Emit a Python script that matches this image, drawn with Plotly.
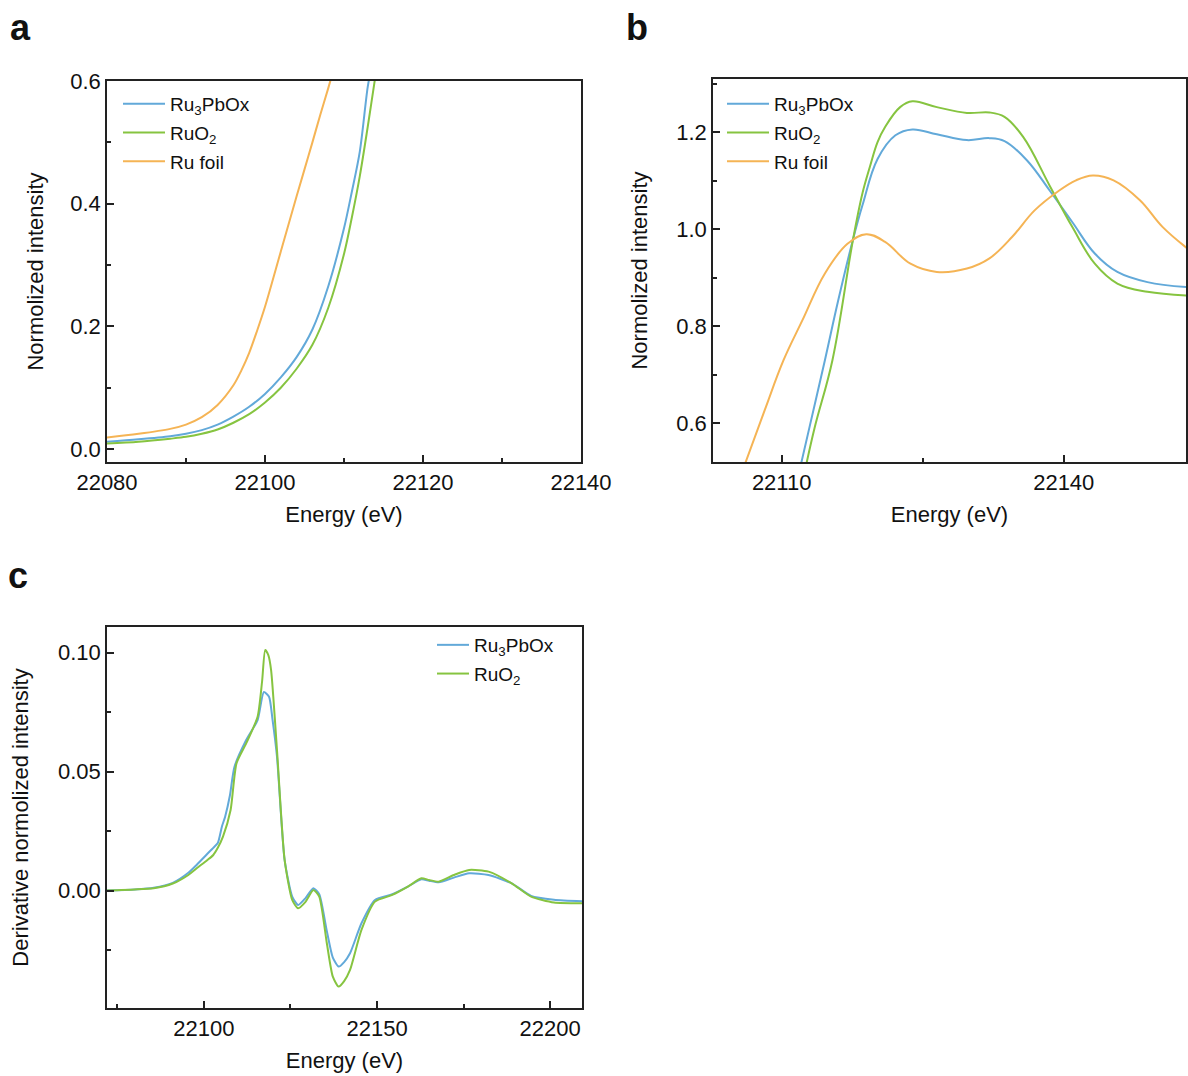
import plotly.graph_objects as go

# ---------------- Data ----------------
# Panel a: XANES pre-edge region
a_E_ru3 = [22080, 22084, 22088, 22090, 22092, 22094, 22096, 22098, 22100, 22102, 22104, 22106, 22108, 22110, 22111, 22112, 22113, 22113.5]
a_I_ru3 = [0.012, 0.016, 0.021, 0.025, 0.031, 0.040, 0.053, 0.069, 0.090, 0.117, 0.150, 0.195, 0.265, 0.360, 0.420, 0.485, 0.590, 0.625]

a_E_ruo2 = [22080, 22084, 22088, 22090, 22092, 22094, 22096, 22098, 22100, 22102, 22104, 22106, 22108, 22110, 22111, 22112, 22113, 22114, 22114.3]
a_I_ruo2 = [0.009, 0.012, 0.017, 0.020, 0.025, 0.032, 0.043, 0.057, 0.076, 0.100, 0.131, 0.170, 0.230, 0.318, 0.378, 0.445, 0.525, 0.610, 0.635]

a_E_foil = [22080, 22084, 22088, 22090, 22092, 22094, 22096, 22097, 22098, 22099, 22100, 22102, 22104, 22105, 22106, 22107, 22108, 22108.6]
a_I_foil = [0.019, 0.025, 0.033, 0.040, 0.052, 0.072, 0.104, 0.128, 0.157, 0.193, 0.232, 0.322, 0.412, 0.456, 0.500, 0.545, 0.588, 0.615]

# Panel b: white-line region
b_E_ru3 = [22111.8, 22113, 22114.6, 22116, 22117.6, 22118.6, 22120.2, 22122.1, 22123.9, 22126.5, 22129.7, 22132.1, 22133.7, 22136.1, 22138.5, 22140.9, 22143.3, 22145.7, 22148.9, 22153.5]
b_I_ru3 = [0.494, 0.595, 0.730, 0.852, 0.980, 1.050, 1.145, 1.194, 1.206, 1.196, 1.184, 1.188, 1.182, 1.142, 1.080, 1.015, 0.950, 0.912, 0.891, 0.880]

b_E_ruo2 = [22112.4, 22113.5, 22115.4, 22117.6, 22118.6, 22119.4, 22120.2, 22121, 22122.6, 22123.9, 22126.5, 22129.7, 22132.1, 22133.7, 22135.7, 22138.5, 22140.9, 22143.3, 22145.7, 22148.9, 22153.5]
b_I_ruo2 = [0.495, 0.590, 0.730, 0.980, 1.075, 1.130, 1.180, 1.211, 1.252, 1.264, 1.252, 1.240, 1.241, 1.232, 1.190, 1.090, 1.005, 0.929, 0.888, 0.871, 0.863]

b_E_foil = [22105.8, 22108.2, 22110.2, 22112.2, 22114.6, 22117, 22119, 22121, 22123.7, 22126.5, 22129.7, 22132.1, 22134.5, 22136.9, 22139.3, 22141.3, 22143.1, 22145.3, 22148.1, 22150.5, 22153.5]
b_I_foil = [0.500, 0.627, 0.730, 0.812, 0.909, 0.970, 0.990, 0.974, 0.929, 0.912, 0.919, 0.940, 0.984, 1.039, 1.077, 1.101, 1.111, 1.101, 1.060, 1.005, 0.955]

# Panel c: first derivative
c_E_ru3 = [22070, 22080, 22085.5, 22091, 22095.5, 22098, 22101, 22102.7, 22104, 22105.2, 22106.1, 22107.5, 22108.8, 22112.2, 22115.5, 22117.3, 22118.8, 22119.8, 22121.1, 22123.3, 22125.5, 22127.2, 22129.4, 22131.6, 22133.3, 22135.5, 22137.2, 22138.9, 22140.5, 22142.2, 22145.5, 22149.4, 22154.4, 22158.9, 22162.8, 22165, 22167.8, 22172.2, 22176.6, 22182.2, 22188.9, 22194.5, 22201.1, 22210]
c_D_ru3 = [0.0, 0.0005, 0.0012, 0.0033, 0.0075, 0.011, 0.0155, 0.018, 0.020, 0.027, 0.031, 0.040, 0.052, 0.0633, 0.0717, 0.0835, 0.0815, 0.072, 0.0563, 0.0129, -0.0025, -0.006, -0.003, 0.001, -0.0015, -0.017, -0.028, -0.0319, -0.030, -0.0263, -0.0137, -0.0039, -0.0015, 0.0017, 0.0048, 0.0042, 0.0035, 0.0055, 0.0073, 0.0066, 0.0031, -0.0022, -0.0038, -0.0045]

c_E_ruo2 = [22070, 22080, 22085.5, 22091, 22095.5, 22098, 22101, 22102.7, 22104, 22105.5, 22107.7, 22109.4, 22112.2, 22115.5, 22116.8, 22117.7, 22118.6, 22119.4, 22121.1, 22123.3, 22125.5, 22127.2, 22129.4, 22131.6, 22133.3, 22135.5, 22137.2, 22138.9, 22140.5, 22142.2, 22145.5, 22149.4, 22154.4, 22158.9, 22162.8, 22165, 22167.8, 22172.2, 22176.6, 22182.2, 22188.9, 22194.5, 22201.1, 22210]
c_D_ruo2 = [0.0, 0.0005, 0.001, 0.003, 0.0066, 0.0095, 0.0129, 0.015, 0.018, 0.0227, 0.0339, 0.0535, 0.0619, 0.0731, 0.088, 0.1011, 0.099, 0.0927, 0.0591, 0.0129, -0.0039, -0.0074, -0.0046, 0.0003, -0.0025, -0.0221, -0.036, -0.0403, -0.038, -0.0333, -0.0165, -0.0046, -0.0018, 0.0017, 0.0052, 0.0045, 0.0038, 0.0066, 0.0087, 0.008, 0.0031, -0.0025, -0.005, -0.0053]

names = ["Ru<sub>3</sub>PbOx", "RuO<sub>2</sub>", "Ru foil"]
colors = ["#62A9D9", "#86C440", "#F5B455"]

FONT = "Liberation Sans, Arial, sans-serif"
W, H = 1188, 1076

fig = go.Figure()

def add(x, y, i, xa, ya, leg, smooth):
    fig.add_trace(go.Scatter(
        x=x, y=y, mode="lines", name=names[i],
        line=dict(color=colors[i], width=2, shape="spline", smoothing=smooth),
        xaxis=xa, yaxis=ya, legend=leg, legendgroup=leg + str(i),
    ))

add(a_E_ru3, a_I_ru3, 0, "x", "y", "legend", 0.9)
add(a_E_ruo2, a_I_ruo2, 1, "x", "y", "legend", 0.9)
add(a_E_foil, a_I_foil, 2, "x", "y", "legend", 0.9)
add(b_E_ru3, b_I_ru3, 0, "x2", "y2", "legend2", 1.1)
add(b_E_ruo2, b_I_ruo2, 1, "x2", "y2", "legend2", 1.1)
add(b_E_foil, b_I_foil, 2, "x2", "y2", "legend2", 1.1)
add(c_E_ru3, c_D_ru3, 0, "x3", "y3", "legend3", 0.6)
add(c_E_ruo2, c_D_ruo2, 1, "x3", "y3", "legend3", 0.6)

def px_x(p):
    return p / W

def px_y(p):
    return 1 - p / H

def axis(domain, rng, dtick, tick0, minor_dtick, fmt, title, standoff, anchor):
    return dict(
        domain=domain, range=rng, dtick=dtick, tick0=tick0, tickformat=fmt,
        showline=True, linecolor="#222", linewidth=1.6, mirror=True,
        ticks="inside", ticklen=7, tickwidth=1.5, tickcolor="#222",
        showgrid=False, zeroline=False, anchor=anchor, automargin=False,
        tickfont=dict(family=FONT, size=22, color="#111"),
        minor=dict(ticks="inside", ticklen=4, tickwidth=1.5, tickcolor="#222",
                   dtick=minor_dtick, tick0=tick0, showgrid=False),
        title=dict(text=title, font=dict(family=FONT, size=22, color="#111"), standoff=standoff),
    )

leg_font = dict(family=FONT, size=19, color="#111")

fig.update_layout(
    template="none",
    width=W, height=H, margin=dict(l=0, r=0, t=0, b=0, autoexpand=False),
    paper_bgcolor="white", plot_bgcolor="white",
    xaxis=axis([px_x(107), px_x(581)], [22080, 22140], 20, 22080, 10, "d", "Energy (eV)", 12, "y"),
    yaxis=axis([px_y(462), px_y(81)], [-0.021, 0.6], 0.2, 0, 0.1, ".1f", "Normolized intensity", 21, "x"),
    xaxis2=axis([px_x(713), px_x(1186)], [22102.7, 22153], 30, 22110, 15, "d", "Energy (eV)", 12, "y2"),
    yaxis2=axis([px_y(462), px_y(79)], [0.52, 1.31], 0.2, 0.6, 0.1, ".1f", "Normolized intensity", 23, "x2"),
    xaxis3=axis([px_x(107), px_x(582)], [22072, 22209.2], 50, 22100, 25, "d", "Energy (eV)", 12, "y3"),
    yaxis3=axis([px_y(1008), px_y(627)], [-0.0493, 0.1108], 0.05, 0, 0.025, ".2f", "Derivative normolized intensity", 23, "x3"),
    legend=dict(x=px_x(118), y=px_y(85), xanchor="left", yanchor="top", bgcolor="rgba(0,0,0,0)",
                font=leg_font, tracegroupgap=1, itemwidth=42),
    legend2=dict(x=px_x(722), y=px_y(85), xanchor="left", yanchor="top", bgcolor="rgba(0,0,0,0)",
                 font=leg_font, tracegroupgap=1, itemwidth=42),
    legend3=dict(x=px_x(432), y=px_y(626), xanchor="left", yanchor="top", bgcolor="rgba(0,0,0,0)",
                 font=leg_font, tracegroupgap=1, itemwidth=32),
    showlegend=True,
)

for letter, x, y in [("a", 20, 28), ("b", 637, 28), ("c", 18, 575)]:
    fig.add_annotation(text="<b>%s</b>" % letter, x=px_x(x), y=px_y(y), xref="paper", yref="paper",
                       xanchor="center", yanchor="middle", showarrow=False,
                       font=dict(family=FONT, size=36, color="#111"))

fig.write_html("out.html")
